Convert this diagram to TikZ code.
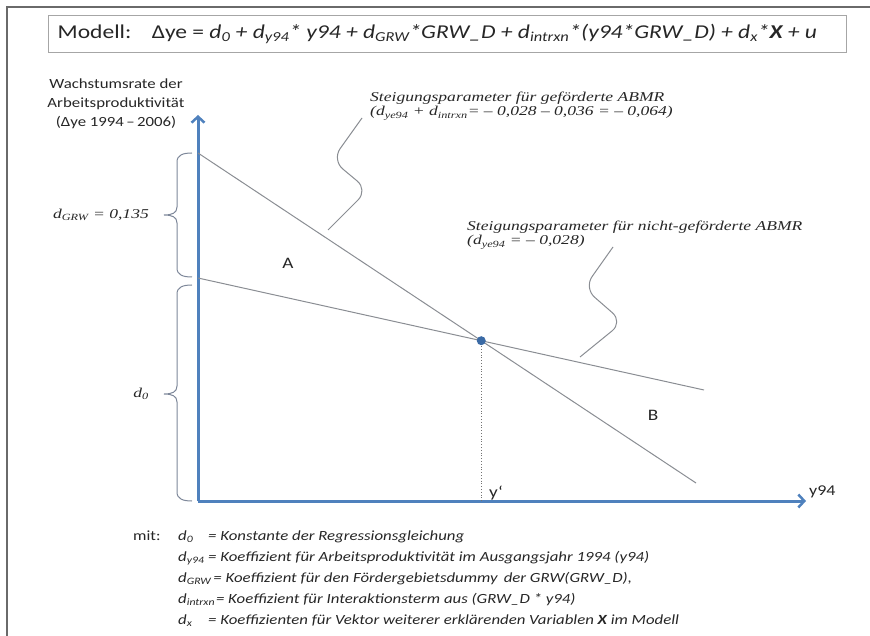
\documentclass[tikz,border=0pt]{standalone}
\usepackage{fontspec}
\setmainfont{Carlito}[FakeStretch=1.2]
\newfontfamily\annofont{Liberation Serif}[FakeStretch=1.3]
\usetikzlibrary{arrows.meta}

\definecolor{axisblue}{HTML}{4F81BD}
\definecolor{dotblue}{HTML}{3A6AA5}
\definecolor{linegray}{HTML}{8A8D93}
\definecolor{bracegray}{HTML}{7D8799}
\definecolor{framegray}{HTML}{6A6A6A}
\definecolor{boxgray}{HTML}{A6A6A6}
\definecolor{txt}{HTML}{262626}

\begin{document}
\begin{tikzpicture}[x=1pt,y=-1pt,
    axis/.style={axisblue,line width=3pt,-{Straight Barb[length=6pt,width=13pt,line width=2.5pt]}},
    slope/.style={linegray,line width=1pt},
    callout/.style={linegray,line width=1pt,rounded corners=14pt},
    curly/.style={bracegray,line width=1pt},
    lab/.style={inner sep=0pt,text=txt,font=\fontsize{14}{19}\selectfont},
    anno/.style={inner sep=0pt,anchor=base west,text=txt,font=\annofont\itshape\fontsize{13.5}{15}\selectfont},
    legend/.style={inner sep=0pt,anchor=base west,text=txt,font=\itshape\fontsize{14}{16}\selectfont}]
\useasboundingbox (0,0) rectangle (870,636);

% frame
\draw[framegray,line width=1.5pt] (7,636) -- (7,7) -- (870,7);

% model
\node[draw=boxgray,line width=1pt,minimum width=798pt,minimum height=37pt,inner sep=0pt] (titlebox) at (447,34) {};
\node[anchor=west,inner sep=0pt,text=txt,font=\fontsize{19.6}{21}\selectfont] (title) at ([xshift=10pt]titlebox.west)
  {Modell:\enspace\ \ Δye = \textit{d\textsubscript{0} + d\textsubscript{y94}* y94 + d\textsubscript{GRW}*GRW\_D + d\textsubscript{intrxn}*(y94*GRW\_D) + d\textsubscript{x}*\textbf{X} + u}};

% axes
\coordinate (O) at (198,501);
\coordinate (ytop) at (198,115);
\coordinate (xend) at (806,501);
\draw[axis] (O) -- (ytop);
\draw[axis] (O) -- (xend);

\node[lab,align=center] (ylab) at (116,104)
  {Wachstumsrate der\\Arbeitsproduktivität\\(Δye 1994\,–\,2006)};
\node[lab,anchor=base west,font=\fontsize{15}{17}\selectfont] (y94lab) at (809,495) {y94};

% slopes
\coordinate (s1) at (198,153);
\coordinate (s2) at (696,483);
\coordinate (f1) at (198,278);
\coordinate (f2) at (704,390);
\draw[slope] (s1) -- (s2);
\draw[slope] (f1) -- (f2);
\coordinate (cross) at (intersection of s1--s2 and f1--f2);
\draw[black!55,dotted,line width=0.8pt] (cross) -- (cross |- O);
\fill[dotblue] (cross) circle (4.5pt);

\node[lab,font=\fontsize{16}{18}\selectfont] (A) at (288,263) {A};
\node[lab,font=\fontsize{16}{18}\selectfont] (B) at (653,415) {B};
\node[lab,anchor=base west,font=\fontsize{16}{18}\selectfont] (yp) at (489,497) {y‘};

% braces
\draw[curly] (192,153) .. controls (183,153) and (177,155) .. (177,162) -- (177,207)
  .. controls (177,213) and (172,215) .. (164,215) .. controls (172,215) and (177,217) .. (177,223)
  -- (177,268) .. controls (177,275) and (183,277) .. (192,277);
\draw[curly] (192,285) .. controls (183,285) and (177,287) .. (177,294) -- (177,386)
  .. controls (177,392) and (172,394) .. (164,394) .. controls (172,394) and (177,396) .. (177,402)
  -- (177,492) .. controls (177,499) and (183,501) .. (192,501);
\node[anno,anchor=east] (dGRW) at (149,215) {d\textsubscript{GRW} = 0,135};
\node[anno,anchor=east] (dzero) at (149,394) {d\textsubscript{0}};

% slope notes
\node[anno] (noteA) at (370,102) {Steigungsparameter für geförderte ABMR};
\node[anno] (noteA2) at (370,116) {(d\textsubscript{ye94} + d\textsubscript{intrxn}= – 0,028 – 0,036 = – 0,064)};
\draw[callout] (362,118) -- (332,160) -- (368,190) -- (328,230);

\node[anno] (noteB) at (467,231) {Steigungsparameter für nicht-geförderte ABMR};
\node[anno] (noteB2) at (467,245) {(d\textsubscript{ye94} = – 0,028)};
\draw[callout] (613,247) -- (584,288) -- (623,322) -- (580,357);

% legend
\node[legend,font=\fontsize{14}{16}\selectfont] (mit) at (133,540) {mit:};
\node[legend] (l1) at (178,540) {\makebox[28pt][l]{d\textsubscript{0}}\kern2pt= Konstante der Regressionsgleichung};
\node[legend] (l2) at (178,561) {\makebox[28pt][l]{d\textsubscript{y94}}\kern2pt= Koeffizient für Arbeitsproduktivität im Ausgangsjahr 1994 (y94)};
\node[legend] (l3) at (178,582) {d\textsubscript{GRW}\kern2pt= Koeffizient für den Fördergebietsdummy\, der GRW(GRW\_D),};
\node[legend] (l4) at (178,603) {d\textsubscript{intrxn}\kern1pt= Koeffizient für Interaktionsterm aus (GRW\_D * y94)};
\node[legend] (l5) at (178,624) {\makebox[28pt][l]{d\textsubscript{x}}\kern2pt= Koeffizienten für Vektor weiterer erklärenden Variablen \textbf{X} im Modell};
\end{tikzpicture}
\end{document}
